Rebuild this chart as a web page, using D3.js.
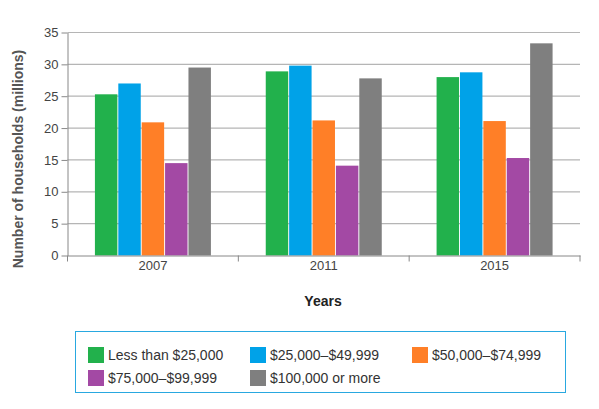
<!DOCTYPE html><html><head><script src="https://cdn.jsdelivr.net/npm/d3@7"></script>
<style>body{margin:0;background:#fff}text{font-family:"Liberation Sans",Arial,sans-serif}</style></head><body><svg width="599" height="409"></svg>
<script>
const years=["2007","2011","2015"];
const seriesNames=["Less than $25,000","$25,000–$49,999","$50,000–$74,999","$75,000–$99,999","$100,000 or more"];
const colors=["#22b14c","#00a2e8","#ff7f27","#a349a4","#7f7f7f"];
const values=[[25.3,27.0,20.9,14.5,29.5],[28.9,29.8,21.2,14.1,27.8],[28.0,28.75,21.1,15.3,33.3]];
const yTicks=[0,5,10,15,20,25,30,35];
const svg=d3.select("svg");
const L=67.5,R=580,T=32.5,B=255.5;
const x=d3.scaleBand().domain(years).range([L,R]);
const y=d3.scaleLinear().domain([0,35]).range([B,T]);
const xs=d3.scaleBand().domain(d3.range(5)).range([0,116]).paddingInner(0.04);
svg.append("g").selectAll("line").data(yTicks.slice(1)).join("line").attr("x1",L).attr("x2",R).attr("y1",d=>y(d)).attr("y2",d=>y(d)).attr("stroke","#b5b5b5").attr("stroke-width",1.2);
const g=svg.append("g").selectAll("g").data(years).join("g").attr("transform",d=>`translate(${x(d)+x.bandwidth()/2-58},0)`);
g.selectAll("rect").data((d,i)=>values[i]).join("rect").attr("x",(d,i)=>xs(i)).attr("width",xs.bandwidth()).attr("y",d=>y(d)).attr("height",d=>B-y(d)).attr("fill",(d,i)=>colors[i]);
const ya=svg.append("g").attr("transform",`translate(${L},0)`).call(d3.axisLeft(y).tickValues(yTicks).tickSize(6).tickSizeOuter(0));
ya.select(".domain").attr("stroke","#888");ya.selectAll("line").attr("stroke","#888");
ya.selectAll("text").attr("font-size",13).attr("fill","#444").attr("font-family","Liberation Sans");
const xa=svg.append("g").attr("transform",`translate(0,${B})`).call(d3.axisBottom(x).tickSize(0));
xa.select(".domain").attr("stroke","#888");xa.selectAll("text").attr("font-size",13).attr("fill","#444").attr("dy","0.9em").attr("font-family","Liberation Sans");
svg.append("g").selectAll("line").data([L,...years.map(d=>x(d)+x.bandwidth())]).join("line").attr("x1",d=>d).attr("x2",d=>d).attr("y1",B).attr("y2",B+6).attr("stroke","#888");
svg.append("text").attr("transform",`translate(23,${(T+B)/2+15}) rotate(-90)`).attr("text-anchor","middle").attr("font-size",14).attr("font-weight","bold").attr("fill","#555").text("Number of households (millions)");
svg.append("text").attr("x",323).attr("y",306).attr("text-anchor","middle").attr("font-size",14).attr("font-weight","bold").attr("fill","#222").text("Years");
svg.append("rect").attr("x",75.5).attr("y",331.5).attr("width",490).attr("height",61).attr("fill","none").attr("stroke","#29a8e0");
const pos=[[88,347],[250,347],[412,347],[88,370],[250,370]];
const lg=svg.append("g").selectAll("g").data(seriesNames).join("g").attr("transform",(d,i)=>`translate(${pos[i][0]},${pos[i][1]})`);
lg.append("rect").attr("width",16).attr("height",16).attr("fill",(d,i)=>colors[i]);
lg.append("text").attr("x",20).attr("y",13).attr("font-size",14).attr("fill","#333").text(d=>d);
</script></body></html>
